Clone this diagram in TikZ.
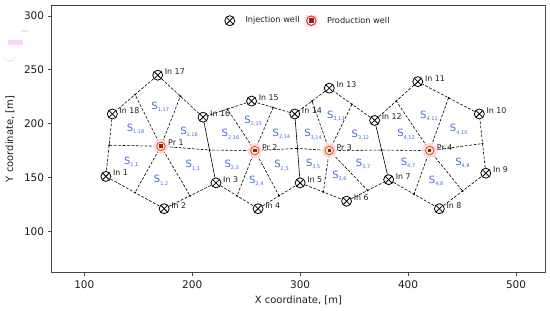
\documentclass[tikz,border=0pt]{standalone}
\usepackage{fontspec}
\setmainfont{DejaVu Sans}
\usetikzlibrary{calc}
\pgfdeclarelayer{background}
\pgfsetlayers{background,main}
\definecolor{slabc}{RGB}{70,105,220}
\definecolor{framec}{RGB}{70,70,70}
\definecolor{txtc}{RGB}{30,30,30}
\definecolor{prring}{RGB}{210,80,40}
\definecolor{prfill}{RGB}{250,235,200}
\definecolor{prsq}{RGB}{150,30,15}
\definecolor{halo}{RGB}{255,215,225}
\definecolor{leghalo}{RGB}{255,228,235}
\definecolor{legring}{RGB}{220,50,50}
\definecolor{artpink}{RGB}{245,185,235}
\newcommand\slbl[1]{{\fontsize{10}{10}\selectfont S}\raisebox{-2.2pt}{\fontsize{5}{5}\selectfont #1}}
\tikzset{
  injw/.style={circle, draw=black, fill=white, line width=0.8pt, minimum size=10pt, inner sep=0pt,
    path picture={\draw[line width=0.8pt] ($(path picture bounding box.center)+(45:5pt)$) -- ($(path picture bounding box.center)+(225:5pt)$);
                  \draw[line width=0.8pt] ($(path picture bounding box.center)+(135:5pt)$) -- ($(path picture bounding box.center)+(315:5pt)$);}},
  prodw/.style={circle, draw=prring, fill=prfill, line width=0.8pt, minimum size=8.5pt, inner sep=0pt,
    preaction={draw=halo, line width=6pt},
    path picture={\fill[prsq] ($(path picture bounding box.center)+(-1.8pt,-1.8pt)$) rectangle ++(3.6pt,3.6pt);}},
  legprodw/.style={circle, draw=legring, fill=white, line width=1pt, minimum size=9.5pt, inner sep=0pt,
    path picture={\fill[prsq] ($(path picture bounding box.center)+(-2.2pt,-2.2pt)$) rectangle ++(4.4pt,4.4pt);}},
  wlab/.style={anchor=west, inner sep=0pt, text=txtc, font=\fontsize{7.9}{8}\selectfont},
  edgeline/.style={draw=black, line width=0.6pt, dash pattern=on 2.8pt off 1.6pt},
  sharedline/.style={draw=black, line width=0.6pt},
  spoke/.style={draw=black, line width=0.6pt, dash pattern=on 2.8pt off 1.6pt},
  sect/.style={text=slabc, inner sep=0pt, anchor=base west},
  ticklab/.style={text=txtc, font=\fontsize{10.5}{12}\selectfont, inner sep=0pt},
  axlab/.style={text=txtc, font=\fontsize{10}{12}\selectfont, inner sep=0pt},
  leglab/.style={anchor=west, text=txtc, inner sep=0pt, font=\fontsize{8.2}{9}\selectfont},
}
\begin{document}
\begin{tikzpicture}[x=1pt,y=1pt]
\useasboundingbox (0,0) rectangle (550,311);
% faint artefacts at top left
\fill[artpink, opacity=0.6] (8,266) rectangle (23,271);
\draw[artpink, opacity=0.6, line width=0.8pt] (4,254) arc (200:340:6);
\fill[artpink, opacity=0.5] (21,279) rectangle (28,281);
\begin{scope}[shift={(-23.63pt,-28pt)}, x=1.0793pt, y=1.0767pt]
  % frame and ticks
  \draw[framec, line width=0.8pt] (69.4,62.2) rectangle (527.3,309.8);
  \foreach \v in {100,200,300,400,500} {
    \draw[framec, line width=0.8pt] (\v,62.2) -- ++(0,-3.5pt);
    \node[ticklab] (xt\v) at ($(\v,62.2)+(0,-13pt)$) {\v};
  }
  \foreach \v in {100,150,200,250,300} {
    \draw[framec, line width=0.8pt] (69.4,\v) -- ++(-3.5pt,0);
    \node[ticklab, anchor=east] (yt\v) at ($(69.4,\v)+(-7pt,0)$) {\v};
  }
  % wells
  \foreach \n/\x/\y in {1/120/151, 2/174/121, 3/222/145, 4/261/121, 5/300/145, 6/343/128,
      7/382/148, 8/429/121, 9/472/154, 10/466/209, 11/409/239, 12/369/203, 13/327/233,
      14/295/209, 15/255/221, 16/210/206, 17/168/245, 18/126/209} {
    \node[injw] (I\n) at (\x,\y) {};
    \node[wlab] (LI\n) at ($(I\n)+(7pt,3.4pt)$) {In \n};
  }
  \foreach \n/\x/\y in {1/171/179, 2/258/175, 3/327/175, 4/420/175} {
    \node[prodw] (P\n) at (\x,\y) {};
    \node[wlab] (LP\n) at ($(P\n)+(7pt,3.4pt)$) {Pr \n};
  }
  % midpoints
  \foreach \a/\b in {1/2,2/3,3/16,16/17,17/18,18/1,3/4,4/5,5/14,14/15,15/16,
      5/6,6/7,7/12,12/13,13/14,7/8,8/9,9/10,10/11,11/12} {
    \coordinate (M\a-\b) at ($(I\a)!0.5!(I\b)$);
  }
  \begin{pgfonlayer}{background}
    \foreach \a/\b in {1/2,2/3,16/17,17/18,18/1,3/4,4/5,14/15,15/16,
        5/6,6/7,12/13,13/14,7/8,8/9,9/10,10/11,11/12} {
      \draw[edgeline] (I\a) -- (I\b);
    }
    \foreach \a/\b in {3/16,5/14,7/12} {
      \draw[sharedline] (I\a) -- (I\b);
    }
    \foreach \p/\a/\b in {1/1/2,1/2/3,1/3/16,1/16/17,1/17/18,1/18/1,
        2/3/4,2/4/5,2/5/14,2/14/15,2/15/16,2/3/16,
        3/5/6,3/6/7,3/7/12,3/12/13,3/13/14,3/5/14,
        4/7/8,4/8/9,4/9/10,4/10/11,4/11/12,4/7/12} {
      \draw[spoke] (P\p) -- (M\a-\b);
    }
    \foreach \a/\b in {1/2,2/3,3/16,16/17,17/18,18/1,3/4,4/5,5/14,14/15,15/16,
        5/6,6/7,7/12,12/13,13/14,7/8,8/9,9/10,10/11,11/12} {
      \fill (M\a-\b) circle (1pt);
    }
  \end{pgfonlayer}
  % sector labels (point = centre of the letter S)
  \foreach \k/\x/\y in {{1,17}/165.1/216.8, {1,18}/142.3/196.3, {1,16}/191.8/193.2,
      {1,1}/139.7/165.6, {1,3}/196.7/162.2, {1,2}/167.4/148.3,
      {2,15}/251.3/203.4, {2,16}/230.2/191.0, {2,14}/277.4/191.6,
      {2,3}/232.8/162.5, {2,5}/279.0/162.2, {2,4}/255.6/147.7,
      {3,13}/327.8/208.0, {3,14}/306.7/191.0, {3,12}/350.6/190.4,
      {3,5}/308.3/163.8, {3,7}/354.5/163.8, {3,6}/332.7/152.3,
      {4,11}/414.1/208.0, {4,12}/392.9/191.0, {4,10}/441.7/195.7,
      {4,7}/396.2/164.7, {4,9}/446.6/164.7, {4,8}/422.2/147.7} {
    \node[sect] (S\k) at ($(\x,\y)+(-3.3pt,-3.6pt)$) {\slbl{\k}};
  }
\end{scope}
% axis labels
\node[axlab] (xlab) at (298.4,10.3) {X coordinate, [m]};
\node[axlab, rotate=90] (ylab) at (10,172) {Y coordinate, [m]};
% legend
\node[injw] (leginj) at (229.8,290.3) {};
\node[leglab] (leginjt) at (245.3,290.3) {Injection well};
\fill[leghalo] (305.3,284.3) rectangle (317.3,296.3);
\node[legprodw] (legprod) at (311.3,290.3) {};
\node[leglab] (legprodt) at (326.8,290.3) {Production well};
\end{tikzpicture}
\end{document}
